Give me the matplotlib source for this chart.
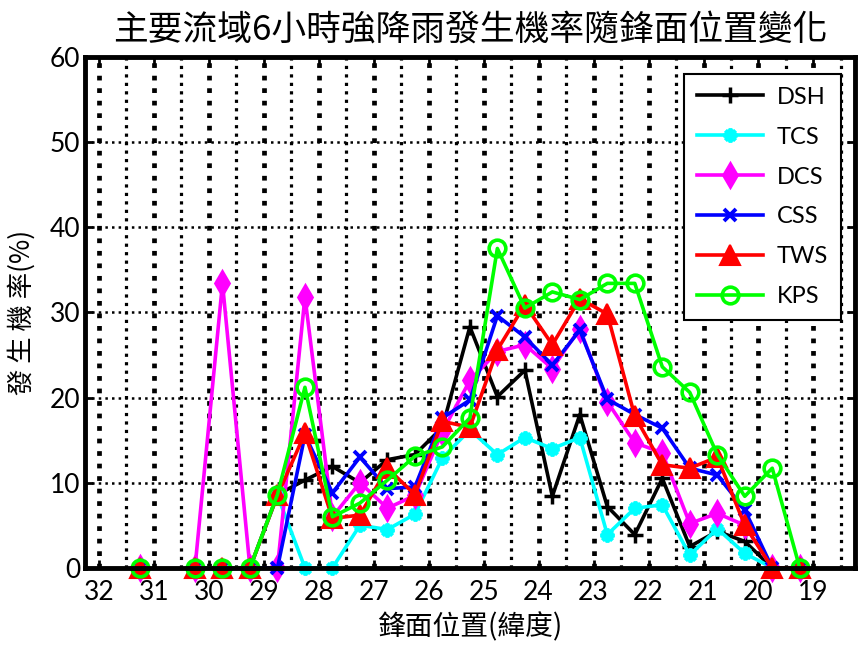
import numpy as np
import matplotlib
matplotlib.use("Agg")
import matplotlib.pyplot as plt
from matplotlib.ticker import MultipleLocator

plt.rcParams['font.family'] = ['Lato', 'Noto Sans CJK TC', 'DejaVu Sans']

# latitude of front (bin centres), NaN gap at 30.75
lat = [31.25, 30.75, 30.25, 29.75, 29.25, 28.75, 28.25, 27.75, 27.25, 26.75,
       26.25, 25.75, 25.25, 24.75, 24.25, 23.75, 23.25, 22.75, 22.25, 21.75,
       21.25, 20.75, 20.25, 19.75, 19.25]
nan = np.nan

dsh = [0, nan, 0, 0, 0, 8.6, 10.3, 11.9, 10.0, 12.7, 13.3, 16.5, 28.3, 20.1,
       23.2, 8.4, 18.0, 7.2, 3.9, 10.5, 2.5, 4.3, 3.1, 0, 0]
tcs = [0, nan, 0, 0, 0, 8.5, 0, 0, 5.0, 4.5, 6.3, 12.9, 16.2, 13.3, 15.3,
       14.0, 15.3, 3.9, 7.0, 7.4, 1.5, 4.6, 1.7, 0, 0]
dcs = [0, nan, 0, 33.4, 0, 0, 31.8, 6.0, 10.0, 7.0, 8.5, 16.0, 22.0, 25.4,
       26.2, 23.4, 28.1, 19.5, 14.7, 13.5, 5.2, 6.4, 5.0, 0, 0]
css = [0, nan, 0, 0, 0, 0, 15.6, 8.8, 13.0, 9.3, 9.5, 17.6, 19.7, 29.6, 27.1,
       23.8, 27.9, 19.8, 18.0, 16.4, 11.7, 10.9, 6.8, 0, 0]
tws = [0, nan, 0, 0, 0, 8.5, 15.8, 5.8, 6.2, 11.7, 8.6, 17.2, 16.5, 25.6,
       30.9, 26.2, 31.6, 29.8, 17.8, 12.1, 11.7, 13.0, 5.0, 0, 0]
kps = [0, nan, 0, 0, 0, 8.6, 21.2, 6.0, 7.6, 10.3, 13.1, 14.2, 17.6, 37.5,
       30.5, 32.4, 31.5, 33.4, 33.4, 23.6, 20.6, 13.3, 8.4, 11.7, 0]

xticks = list(range(32, 18, -1))

fig = plt.figure(figsize=(8.59, 6.46), dpi=100)
ax = fig.add_axes([0.099, 0.121, 0.896, 0.791])

lw = 2.6
kw = dict(lw=lw, clip_on=False, zorder=3)
ax.plot(lat, dsh, color='black', marker='+', ms=11, mew=2.5, label='DSH', **kw)
ax.plot(lat, tcs, color='cyan', marker=(8, 2, 0), ms=10, mew=2.8, label='TCS', **kw)
ax.plot(lat, dcs, color='magenta', marker='d', ms=12, mew=2, label='DCS', **kw)
ax.plot(lat, css, color='blue', marker='x', ms=8, mew=2.8, label='CSS', **kw)
ax.plot(lat, tws, color='red', marker='^', ms=15, mew=1.5, label='TWS', **kw)
ax.plot(lat, kps, color='#00ff00', marker='o', ms=12, mew=2.6,
        mfc='none', label='KPS', **kw)

ax.set_xlim(32.25, 18.25)
ax.set_ylim(0, 60)
ax.set_xticks(xticks)
ax.xaxis.set_minor_locator(MultipleLocator(0.5))
ax.set_yticks(range(0, 61, 10))

ax.grid(axis='x', which='major', color='black', ls=':', lw=3.4)
ax.grid(axis='x', which='minor', color='black', ls=':', lw=2.3)
ax.grid(axis='y', which='major', color='black', ls=':', lw=1.8)

ax.tick_params(axis='both', which='major', direction='in', length=6, width=2,
               labelsize=19, top=True, right=True)
ax.tick_params(axis='x', which='minor', length=0)
ax.tick_params(axis='x', pad=9)
for s in ax.spines.values():
    s.set_linewidth(3.5)
    s.set_zorder(4)

cjk = ['Noto Sans CJK TC', 'DejaVu Sans']
ax.set_title('主要流域6小時強降雨發生機率隨鋒面位置變化', family=cjk,
             fontsize=25, pad=12)
ax.set_xlabel('鋒面位置(緯度)', family=cjk, fontsize=20, labelpad=5)
ax.set_ylabel('發 生 機 率(%)', family=cjk, fontsize=19, labelpad=10)

leg = ax.legend(loc='upper right', fontsize=17, handlelength=2.8,
                labelspacing=0.8, borderpad=0.55, handletextpad=0.6,
                fancybox=False, framealpha=1, edgecolor='black',
                bbox_to_anchor=(0.998, 0.99))
leg.get_frame().set_linewidth(1.5)
leg.set_zorder(5)

fig.savefig('out.png', dpi=100)
